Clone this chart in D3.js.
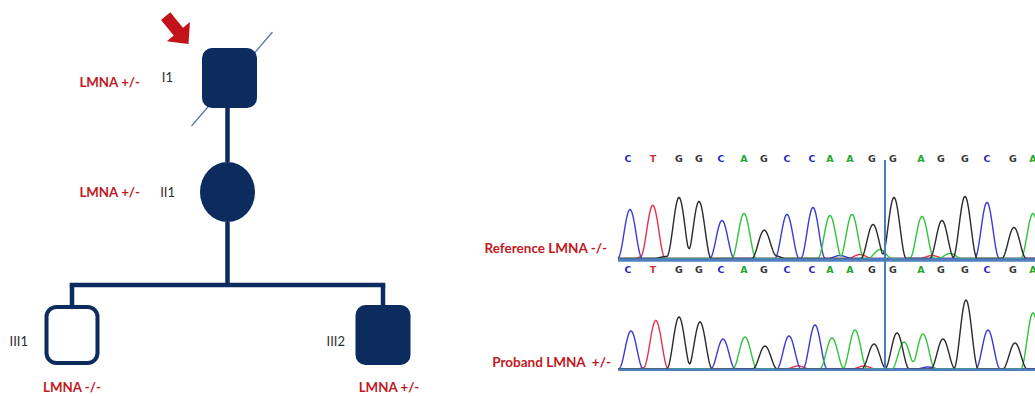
<!DOCTYPE html>
<html>
<head>
<meta charset="utf-8">
<script src="https://cdn.jsdelivr.net/npm/d3@7"></script>
<style>
  html, body { margin: 0; padding: 0; background: #fff; }
  svg { display: block; }
</style>
</head>
<body>
<svg id="chart" width="1035" height="396"></svg>
<script>
// ---------------- Pedigree data ----------------
const generations = ["I", "II", "III"];
const individualIds = ["I1", "II1", "III1", "III2"];
const individualSex = ["M", "F", "M", "M"];
const individualAffected = [true, true, false, true];
const individualDeceased = [true, false, false, false];
const individualGen = ["I", "II", "III", "III"];
const individualCol = [1, 1, 0, 2];
const individualGenotype = ["LMNA +/-", "LMNA +/-", "LMNA -/-", "LMNA +/-"];
const probandId = "I1";
const parentChild = [["I1", "II1"], ["II1", "III1"], ["II1", "III2"]];

// ---------------- Sequencing data ----------------
const bases = ["C","T","G","G","C","A","G","C","C","A","A","G","G","A","G","G","C","G","A"];
const callScan = [0, 25, 51, 71, 93, 116, 136, 159, 184, 202, 222, 244, 265, 293, 313, 337, 359, 385, 405];
const refScan = [2, 25, 51, 71, 94, 116, 136, 159, 185, 202, 224, 245, 266, 294, 314, 337, 359, 386, 405];
const refHeights = [49, 52, 61, 57, 38, 45, 28, 44, 51, 43, 44, 34, 61, 42, 38, 62, 56, 31, 45];
const probScan = [3, 28, 51, 72, 95, 117, 137, 161, 187, 204, 227, 246, 269, 295, 315, 338, 360, 387, 405];
const probHeights = [38, 48, 52, 47, 30, 32, 23, 33, 44, 31, 39, 25, 36, 35, 30, 69, 39, 26, 56];
// minor / secondary signals [base, scan, height]
const refMinor = [["T", 18, 3], ["G", 38, 2], ["T", 232, 4], ["C", 212, 3], ["A", 252, 9], ["T", 304, 3], ["A", 322, 5], ["G", 146, 3]];
const probMinor = [["A", 276, 27], ["T", 170, 3], ["T", 236, 3], ["C", 300, 2], ["T", 20, 2]];
const markerScan = 257;
const traceLabels = ["Reference LMNA -/-", "Proband LMNA  +/-"];

// ---------------- Drawing ----------------
const svg = d3.select("#chart");
const navy = "#0c2b5e";
const darkRed = "#c01a1f";

const people = individualIds.map((id, i) => ({
  id, sex: individualSex[i], affected: individualAffected[i], deceased: individualDeceased[i],
  gen: individualGen[i], col: individualCol[i], genotype: individualGenotype[i]
}));
const byId = new Map(people.map(p => [p.id, p]));

const px = d3.scaleLinear().domain([0, 2]).range([72, 383]);
const py = d3.scaleOrdinal().domain(generations).range([78, 192, 335]);
const symW = 55, symH = 60;
const cx = p => px(p.col), cy = p => py(p.gen);

const ped = svg.append("g").attr("class", "pedigree");

// connecting lines
const lines = ped.append("g").attr("stroke", navy).attr("stroke-width", 4.5).attr("fill", "none");
const childrenOf = d3.group(parentChild, d => d[0]);
childrenOf.forEach((pairs, parentId) => {
  const parent = byId.get(parentId);
  const kids = pairs.map(d => byId.get(d[1]));
  const top = cy(parent) + symH / 2;
  if (kids.length === 1) {
    lines.append("line").attr("x1", cx(parent)).attr("x2", cx(parent))
      .attr("y1", top).attr("y2", cy(kids[0]) - symH / 2);
  } else {
    const sibY = py(kids[0].gen) - 50;
    lines.append("line").attr("x1", cx(parent)).attr("x2", cx(parent)).attr("y1", top).attr("y2", sibY);
    const xs = kids.map(cx);
    lines.append("line").attr("x1", d3.min(xs) - 2.25).attr("x2", d3.max(xs) + 2.25)
      .attr("y1", sibY).attr("y2", sibY);
    kids.forEach(k => lines.append("line").attr("x1", cx(k)).attr("x2", cx(k))
      .attr("y1", sibY).attr("y2", cy(k) - symH / 2 + 2));
  }
});

// deceased marks
people.filter(p => p.deceased).forEach(p => {
  ped.append("line")
    .attr("x1", cx(p) - 36).attr("y1", cy(p) + 48)
    .attr("x2", cx(p) + 45).attr("y2", cy(p) - 46)
    .attr("stroke", "#5b77a6").attr("stroke-width", 1.3);
});

// symbols
people.forEach(p => {
  const fill = p.affected ? navy : "#fff";
  if (p.sex === "F") {
    ped.append("ellipse").attr("cx", cx(p)).attr("cy", cy(p))
      .attr("rx", symW / 2).attr("ry", symH / 2).attr("fill", fill);
  } else {
    const sw = p.affected ? 0 : 4;
    ped.append("rect")
      .attr("x", cx(p) - symW / 2 + sw / 2 + (p.id === "I1" ? 2 : 0))
      .attr("y", cy(p) - symH / 2 + sw / 2)
      .attr("width", symW - sw).attr("height", symH - sw)
      .attr("rx", 10).attr("ry", 10)
      .attr("fill", fill).attr("stroke", navy).attr("stroke-width", sw);
  }
});

// proband arrow
{
  const p = byId.get(probandId);
  const tipX = cx(p) - 39, tipY = cy(p) - 34;
  ped.append("path")
    .attr("d", "M0,0 L-16,-15 L-16,-6 L-36,-6 L-36,6 L-16,6 L-16,15 Z")
    .attr("fill", "#c4121a")
    .attr("transform", `translate(${tipX},${tipY}) rotate(50.6)`);
}

// labels
const labelFont = "Lato, 'Open Sans', sans-serif";
const idLabelX = { I1: 173, II1: 175, III1: 28, III2: 345 };
const idLabelY = { I1: 82, II1: 197, III1: 346, III2: 346 };
people.forEach(p => {
  ped.append("text").text(p.id)
    .attr("x", idLabelX[p.id]).attr("y", idLabelY[p.id])
    .attr("text-anchor", "end")
    .attr("font-family", labelFont).attr("font-size", 13)
    .attr("fill", "#2e2e2e");
  const below = p.gen === "III";
  ped.append("text").text(p.genotype)
    .attr("x", below ? cx(p) + (p.id === "III2" ? 6 : 0) : 140)
    .attr("y", below ? 392 : cy(p) + (p.gen === "I" ? 9 : 5))
    .attr("text-anchor", below ? "middle" : "end")
    .attr("font-family", labelFont).attr("font-size", 13.3).attr("font-weight", "bold")
    .attr("fill", darkRed);
});

// ---------------- Chromatograms ----------------
const sx = d3.scaleLinear().domain([0, 410]).range([628, 1038]);
const channelColor = { A: "#2fc43a", C: "#3b3bd6", G: "#2a2a2a", T: "#e8334a" };
const letterColor = { A: "#24a830", C: "#2626c4", G: "#333333", T: "#cc3535" };
const halfWidth = 12.3;
const kernel = d => Math.abs(d) < halfWidth ? Math.pow(Math.cos(Math.PI * d / (2 * halfWidth)), 2) : 0;
const sampleScans = d3.range(-10, 412, 0.5);

const panels = [
  { baseline: 258.5, scans: refScan, heights: refHeights, minor: refMinor, letterY: 162, bandY: 260, bandW: 3.5, label: traceLabels[0], labelX: 607, labelY: 253 },
  { baseline: 369, scans: probScan, heights: probHeights, minor: probMinor, letterY: 273, bandY: 369.8, bandW: 2.5, label: traceLabels[1], labelX: 611, labelY: 367 }
];

const chrom = svg.append("g").attr("class", "chromatograms");

panels.forEach(pn => {
  const sy = d3.scaleLinear().domain([0, 100]).range([pn.baseline, pn.baseline - 100]);
  const peaks = bases.map((b, i) => [b, pn.scans[i], pn.heights[i]]).concat(pn.minor);
  const line = d3.line().x(d => sx(d[0])).y(d => sy(d[1]));
  ["T", "C", "A", "G"].forEach(ch => {
    const chPeaks = peaks.filter(p => p[0] === ch);
    const pts = sampleScans.map(s => [s, d3.sum(chPeaks, p => p[2] * kernel(s - p[1]))]);
    chrom.append("path").attr("d", line(pts))
      .attr("fill", "none").attr("stroke", channelColor[ch]).attr("stroke-width", 1.4)
      .attr("stroke-linejoin", "round");
  });
  chrom.append("line")
    .attr("x1", sx(-10)).attr("x2", 1035)
    .attr("y1", pn.bandY).attr("y2", pn.bandY)
    .attr("stroke", "#4f7fbf").attr("stroke-width", pn.bandW);

  // base calls
  chrom.append("g").selectAll("text").data(bases).join("text")
    .text(d => d)
    .attr("x", (d, i) => sx(callScan[i]))
    .attr("y", pn.letterY)
    .attr("text-anchor", "middle")
    .attr("font-family", "'DejaVu Sans', sans-serif")
    .attr("font-weight", "bold").attr("font-size", 9.5)
    .attr("fill", d => letterColor[d]);

  chrom.append("text").text(pn.label)
    .attr("x", pn.labelX).attr("y", pn.labelY)
    .attr("text-anchor", "end").attr("xml:space", "preserve")
    .style("white-space", "pre")
    .attr("font-family", labelFont).attr("font-size", 13.5).attr("font-weight", "bold")
    .attr("fill", darkRed);
});

// position marker
chrom.append("line")
  .attr("x1", sx(markerScan)).attr("x2", sx(markerScan))
  .attr("y1", 160).attr("y2", 371)
  .attr("stroke", "#4a7dbb").attr("stroke-width", 2);
</script>
</body>
</html>
